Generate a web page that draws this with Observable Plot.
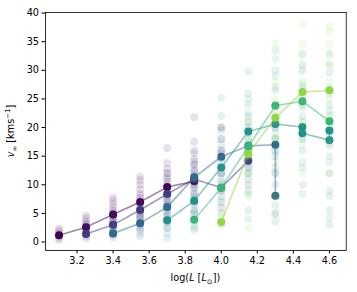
<!DOCTYPE html>
<html><head><meta charset="utf-8">
<script src="https://cdn.jsdelivr.net/npm/d3@7"></script>
<script src="https://cdn.jsdelivr.net/npm/@observablehq/plot@0.6"></script>
<style>body{margin:0;background:#fff} svg{font-family:"DejaVu Sans",sans-serif}</style>
</head><body><div id="chart"></div>
<script>
const xTicks = [3.2, 3.4, 3.6, 3.8, 4.0, 4.2, 4.4, 4.6];
const yTicks = [0, 5, 10, 15, 20, 25, 30, 35, 40];
const seriesColors = ["#440154", "#443983", "#31688e", "#21918c", "#35b779", "#90d743"];

// highlighted tracks [logL, v_inf]
const track0 = [[3.1,1.2],[3.25,2.6],[3.4,4.8],[3.55,7.0],[3.7,9.6],[3.85,10.6]];
const track1 = [[3.25,1.4],[3.4,3.0],[3.55,5.6],[3.7,8.4],[3.85,11.0],[4.0,9.5],[4.15,14.2]];
const track2 = [[3.4,1.5],[3.55,3.3],[3.7,6.1],[3.85,11.3],[4.0,14.9],[4.15,16.8],[4.3,17.0],[4.3,8.1]];
const track3 = [[3.7,3.8],[3.85,7.2],[4.0,13.0],[4.15,19.3],[4.3,20.6],[4.45,20.1],[4.45,19.0],[4.6,17.8],[4.6,19.5]];
const track4 = [[3.85,3.9],[4.0,9.5],[4.15,16.7],[4.3,23.8],[4.45,24.6],[4.6,21.1]];
const track5 = [[4.0,3.5],[4.15,15.4],[4.3,21.7],[4.45,26.2],[4.6,26.5]];

// faded clouds: [logL, list of v_inf]
const cloud0 = [[3.1,[0.4,0.8,1.2,1.6,2.0,2.3]],[3.25,[1.6,2.1,2.6,3.1,3.6,4.1,4.6]],[3.4,[3.0,3.6,4.2,4.8,5.4,6.0,6.6,7.2,7.8]],[3.55,[4.5,5.2,6.0,6.8,7.6,8.4,9.2,10.0,10.8,11.4]],[3.7,[6.5,7.5,8.5,9.5,10.5,11.3,12.0,12.8,13.8,16.4]],[3.85,[7.0,8.5,10.0,11.5,12.5,13.5,14.5,16.0,17.5,21.8]],[4.0,[6.0,9.0,12.0,16.0,20.0]]];
const cloud1 = [[3.25,[0.6,1.0,1.4,1.8,2.2,2.7,3.2]],[3.4,[1.5,2.0,2.5,3.0,3.5,4.0,4.5,5.2]],[3.55,[2.5,3.3,4.1,4.9,5.6,6.3,7.0,8.0]],[3.7,[4.0,5.0,6.0,7.0,8.0,9.0,10.0,11.0,12.0]],[3.85,[5.0,6.5,8.0,9.5,11.0,12.5,14.0,15.5]],[4.0,[8.0,10.5,13.0,15.5,18.0]],[4.15,[10.0,13.0,16.0]]];
const cloud2 = [[3.4,[0.8,1.2,1.6,2.0,2.5]],[3.55,[1.0,1.6,2.2,2.8,3.4,4.0,4.6]],[3.7,[2.5,3.5,4.5,5.5,6.5,7.5,8.5]],[3.85,[5.5,7.5,9.5,11.5,13.5]],[4.0,[10.0,12.0,14.0,16.0,18.0,20.0]],[4.15,[11.0,13.0,15.0,17.0,19.0,21.0]],[4.3,[5.0,8.0,12.0,15.0,18.0,20.0]]];
const cloud3 = [[3.7,[0.7,1.5,2.5,3.5,4.5,5.5]],[3.85,[2.5,4.0,5.5,7.0,8.5,10.0,12.0]],[4.0,[7.0,9.5,12.0,14.5,17.0,19.5,22.0,25.2]],[4.15,[5.5,9.0,12.0,14.0,16.0,18.0,20.0,22.0,24.0,26.0,29.8]],[4.3,[3.6,6.4,10.0,13.0,16.0,18.0,20.0,22.0,24.0,27.0,30.0,33.5]],[4.45,[10.0,13.0,16.0,18.0,20.0,22.0,24.0,27.0,31.0]],[4.6,[3.0,5.5,8.1,12.0,15.0,17.0,19.0,21.0,23.0,26.0,29.6]]];
const cloud4 = [[3.85,[2.1,3.0,4.0,5.0]],[4.0,[3.2,5.0,7.0,9.0,11.0,13.0]],[4.15,[4.0,8.4,12.0,15.0,17.5,20.0,22.5,25.0]],[4.3,[4.9,12.0,16.0,19.0,21.5,24.0,26.5,29.0,32.0]],[4.45,[8.4,14.0,18.0,21.0,23.5,25.5,27.5,30.0,33.0]],[4.6,[4.2,9.0,14.0,18.0,20.0,22.0,24.0,27.0,31.0,33.0]]];
const cloud5 = [[4.0,[2.8,3.8,5.0]],[4.15,[2.5,8.0,12.0,15.0,18.0,21.0]],[4.3,[8.0,14.0,18.0,21.0,23.0,25.0,28.0,34.7]],[4.45,[12.0,17.0,21.0,25.0,28.0,30.0,32.5,34.5,38.0]],[4.6,[12.0,17.0,22.0,25.0,28.0,31.0,32.5,34.5,36.7,37.6]]];

const tracks = [track0, track1, track2, track3, track4, track5];
const clouds = [cloud0, cloud1, cloud2, cloud3, cloud4, cloud5];

const marks = [];
tracks.forEach((tr, i) => {
  const c = seriesColors[i];
  const cl = clouds[i].flatMap(([x, vs]) => vs.map(v => ({x, y: v})));
  const hl = tr.map(([x, y]) => ({x, y}));
  marks.push(Plot.dot(cl, {x: "x", y: "y", r: 4, fill: c, fillOpacity: 0.12, stroke: "none"}));
  marks.push(Plot.line(hl, {x: "x", y: "y", stroke: c, strokeOpacity: 0.5, strokeWidth: 1.6}));
  marks.push(Plot.dot(hl, {x: "x", y: "y", r: 4, fill: c, stroke: "none"}));
});

const plot = Plot.plot({
  width: 357, height: 292,
  marginLeft: 45, marginRight: 11.3, marginTop: 12, marginBottom: 42,
  style: {fontSize: "9.7px", fontFamily: "DejaVu Sans", color: "#000", background: "#fff"},
  x: {domain: [3.025, 4.693], label: null},
  y: {domain: [-1.48, 40.1], label: null},
  marks: [
    ...marks,
    Plot.frame({stroke: "#000", strokeWidth: 0.8}),
    Plot.axisX({ticks: xTicks, tickFormat: d => d.toFixed(1), tickSize: 3.5, tickPadding: 3, label: null}),
    Plot.axisY({ticks: yTicks, tickSize: 3.5, tickPadding: 3, label: null})
  ]
});
document.getElementById("chart").appendChild(plot);

const svg = d3.select(plot);
const yl = svg.append("text").attr("transform", "translate(14,131) rotate(-90)")
  .attr("text-anchor", "middle").attr("font-size", "9.7px").attr("fill", "#000");
yl.append("tspan").attr("font-style", "italic").text("v");
yl.append("tspan").attr("dy", "2.5").attr("font-size", "7px").text("∞");
yl.append("tspan").attr("dy", "-2.5").text(" [kms");
yl.append("tspan").attr("dy", "-4").attr("font-size", "7px").text("−1");
yl.append("tspan").attr("dy", "4").text("]");

const xl = svg.append("text").attr("x", 195.4).attr("y", 281)
  .attr("text-anchor", "middle").attr("font-size", "9.7px").attr("fill", "#000");
xl.append("tspan").text("log(");
xl.append("tspan").attr("font-style", "italic").text("L");
xl.append("tspan").text(" [");
xl.append("tspan").attr("font-style", "italic").text("L");
xl.append("tspan").attr("dy", "2.5").attr("font-size", "7px").text("⊙");
xl.append("tspan").attr("dy", "-2.5").text("])");
</script>
</body></html>
